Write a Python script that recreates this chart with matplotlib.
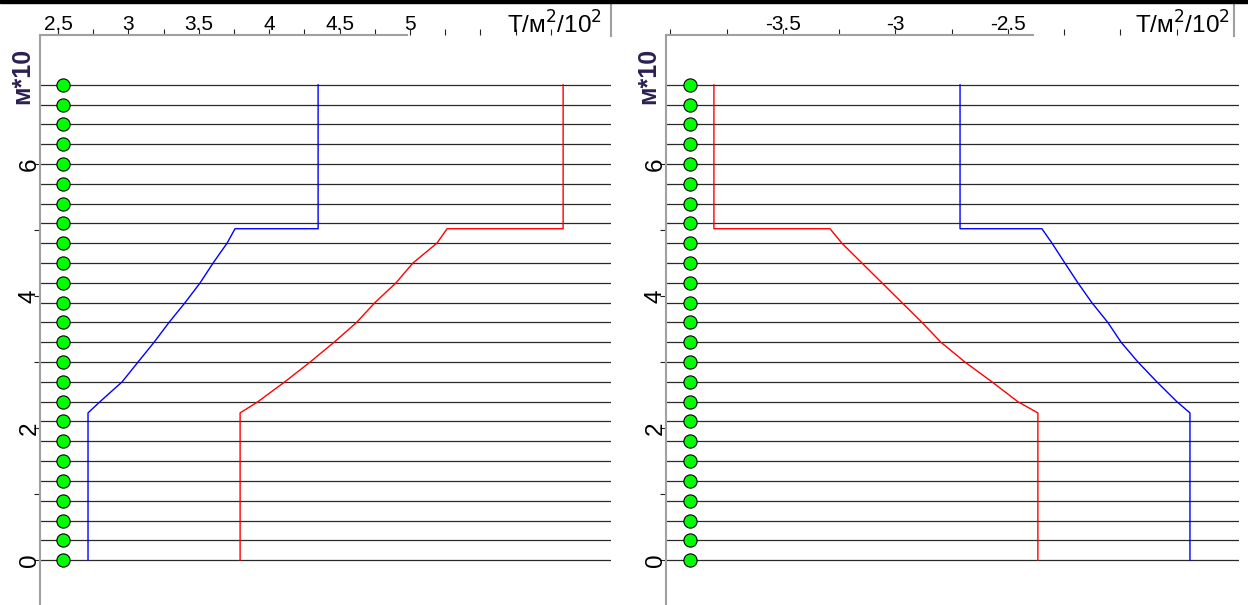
import numpy as np
import matplotlib
matplotlib.use('Agg')
import matplotlib.pyplot as plt
from matplotlib.patches import Rectangle
from matplotlib.lines import Line2D

plt.rcParams['font.family'] = ['Liberation Sans', 'DejaVu Sans']

# слои: уровни через 0.3 (м*10)
levels = np.round(np.arange(0, 7.21, 0.3), 2)

# глубины точек профилей (м*10)
depth = [0, 2.23, 2.4, 2.7, 3.0, 3.3, 3.6, 3.9, 4.2, 4.5, 4.8, 5.02, 5.02, 7.2]

# левая панель, T/м2/10^2
left_blue = [2.713, 2.713, 2.798, 2.955, 3.068, 3.182, 3.288, 3.402, 3.509, 3.601, 3.700, 3.757, 4.347, 4.347]
left_red = [3.793, 3.793, 3.92, 4.11, 4.29, 4.46, 4.62, 4.75, 4.90, 5.02, 5.19, 5.263, 6.087, 6.087]

# правая панель
right_red = [-2.367, -2.367, -2.456, -2.571, -2.691, -2.798, -2.882, -2.971, -3.06, -3.149, -3.238, -3.291, -3.807, -3.807]
right_blue = [-1.691, -1.691, -1.749, -1.838, -1.922, -1.997, -2.056, -2.127, -2.189, -2.247, -2.304, -2.349, -2.713, -2.713]

left_ticks = [2.5, 2.75, 3.0, 3.25, 3.5, 3.75, 4.0, 4.25, 4.5, 4.75, 5.0, 5.25, 5.5, 5.75, 6.0]
left_ticklabels = ['2.5', '', '3', '', '3.5', '', '4', '', '4.5', '', '5', '', '', '', '']
right_ticks = [-4.0, -3.75, -3.5, -3.25, -3.0, -2.75, -2.5, -2.25, -2.0, -1.75]
right_ticklabels = ['', '', '-3.5', '', '-3', '', '-2.5', '', '', '']

y_ticks = [0, 2, 4, 6]
y_ticklabels = ['0', '2', '4', '6']
y_minor = [1, 3, 5]

W, H = 1248, 605
fig = plt.figure(figsize=(W / 100, H / 100), dpi=100)
fig.patch.set_facecolor('white')

ax1 = fig.add_axes([40 / W, 0, 571 / W, 570 / H])
ax2 = fig.add_axes([666 / W, 0, 573 / W, 570 / H])

panels = [
    (ax1, (2.372, 6.427), left_blue, left_red, 2.536, left_ticks, left_ticklabels, 4.98),
    (ax2, (-4.02, -1.473), right_blue, right_red, -3.913, right_ticks, right_ticklabels, -2.39),
]

for ax, xlim, blue, red, dot_x, ticks, ticklabels, spine_end in panels:
    ax.set_xlim(*xlim)
    ax.set_ylim(-0.68, 7.955)

    ax.hlines(levels, 0, 1, transform=ax.get_yaxis_transform(),
              color='#2a2a2a', lw=0.9, zorder=1)
    ax.plot(blue, depth, color='#0000ff', lw=1.0, zorder=2)
    ax.plot(red, depth, color='#ff0000', lw=1.0, zorder=2)
    ax.plot(np.full(len(levels), dot_x), levels, 'o', ms=9.5,
            mfc='#00ff00', mec='black', mew=0.8, zorder=3, clip_on=False)

    for s in ['right', 'bottom']:
        ax.spines[s].set_visible(False)
    for s in ['left', 'top']:
        ax.spines[s].set_color('#a0a0a0')
        ax.spines[s].set_linewidth(1.5)
    ax.spines['top'].set_bounds(xlim[0], spine_end)

    ax.xaxis.tick_top()
    ax.set_xticks(ticks, ticklabels)
    ax.tick_params(axis='x', which='both', direction='out', length=4,
                   width=0.8, color='#222222', pad=-3, labelsize=15)

    ax.set_yticks(y_ticks, y_ticklabels)
    ax.set_yticks(y_minor, minor=True)
    ax.tick_params(axis='y', which='both', direction='out', length=4,
                   width=0.8, color='#222222', pad=-4.5, labelsize=17.5,
                   labelrotation=90)
    for lb in ax.get_yticklabels():
        lb.set_va('center')

    ax.text(0.984, 1 + 1.5 / 570, 'T/м$^2$/10$^2$', transform=ax.transAxes,
            ha='right', va='baseline', fontsize=17.5)
    ax.text(-0.031, 0.978, 'м*10', transform=ax.transAxes, rotation=90,
            ha='center', va='top', fontsize=18, fontweight='bold', color='#2b2050')

# рамка окна
fig.add_artist(Rectangle((0, 1 - 3 / H), 1, 3 / H, transform=fig.transFigure,
                         color='black', zorder=10))
for xp in [611, 1234]:
    fig.add_artist(Line2D([xp / W, xp / W], [1 - 3 / H, 1 - 36 / H],
                          transform=fig.transFigure, color='#a0a0a0', lw=1.5))

plt.savefig('out.png', dpi=100)
